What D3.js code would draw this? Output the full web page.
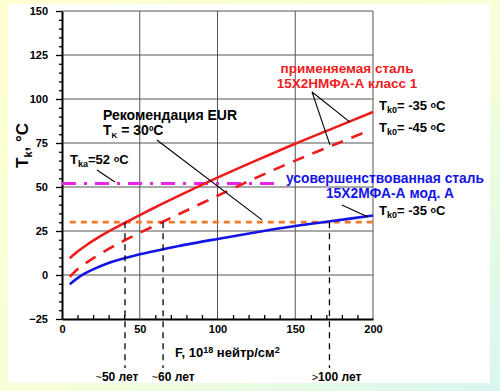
<!DOCTYPE html>
<html>
<head>
<meta charset="utf-8">
<script src="https://cdn.jsdelivr.net/npm/d3@7"></script>
<style>
  body { margin: 0; }
  svg { display: block; font-family: "Liberation Sans", Arial, sans-serif; }
</style>
</head>
<body>
<script>
const width = 500;
const height = 391;

// fluence F, 10^18 n/cm2
const fluence = [5, 10, 15, 20, 30, 40, 50, 65, 75, 100, 125, 150, 175, 200];
const redSolid = [9.5, 13.3, 16.5, 19.5, 24.8, 29.4, 34, 40.7, 45, 55.3, 65.1, 74.6, 83.6, 92.6];
const fluenceDashed = [5, 10, 15, 20, 30, 40, 50, 65, 75, 100, 125, 150, 175, 195];
const redDashed = [-1, 3.3, 6.6, 9.5, 14.8, 19.6, 24, 30.3, 34.5, 45, 55.3, 65, 74, 81.2];
const blueLine = [-5.3, -1.8, 1, 3.2, 6.8, 9.5, 11.8, 14.6, 16.5, 20.5, 24.3, 27.8, 30.8, 33.8];

const yTicks = [-25, 0, 25, 50, 75, 100, 125, 150];
const xTicks = [0, 50, 100, 150, 200];
const gridY = [0, 25, 50, 75, 100, 125];
const gridX = [50, 100, 150];

const tkaLevel = 52;      // magenta, F 0..140
const eurLevel = 30;      // orange
const lifeF = [40.5, 65, 172];
const lifeLabels = ["50 лет", "60 лет", "100 лет"];
const lifePrefix = ["~", "~", ">"];

const x = d3.scaleLinear().domain([0, 200]).range([62, 373]);
const y = d3.scaleLinear().domain([-25, 150]).range([319, 11]);

const svg = d3.select("body").append("svg")
  .attr("width", width)
  .attr("height", height);

// background
const defs = svg.append("defs");
const grad = defs.append("linearGradient").attr("id", "bg")
  .attr("x1", "0").attr("y1", "0").attr("x2", "1").attr("y2", "1");
grad.append("stop").attr("offset", "0").attr("stop-color", "#ffffd2");
grad.append("stop").attr("offset", "0.55").attr("stop-color", "#f6ffd8");
grad.append("stop").attr("offset", "1").attr("stop-color", "#d8f6f0");
svg.append("rect").attr("width", width).attr("height", height).attr("fill", "url(#bg)");
svg.append("rect").attr("x", 8).attr("y", 4).attr("width", 482).attr("height", 379)
  .attr("fill", "#ffffff");

// grid
const grid = svg.append("g").attr("stroke", "#555").attr("stroke-width", 1);
grid.selectAll(".gy").data(gridY).enter().append("line")
  .attr("x1", x(0)).attr("x2", x(200))
  .attr("y1", d => y(d)).attr("y2", d => y(d));
grid.selectAll(".gx").data(gridX).enter().append("line")
  .attr("y1", y(-25)).attr("y2", y(150))
  .attr("x1", d => x(d)).attr("x2", d => x(d));
grid.append("line").attr("x1", x(0)).attr("x2", x(200)).attr("y1", y(150)).attr("y2", y(150));
grid.append("line").attr("x1", x(200)).attr("x2", x(200)).attr("y1", y(-25)).attr("y2", y(150));

// axes
const yMinor = d3.range(-25, 151, 5).filter(v => v % 25 !== 0);
const xMinor = d3.range(0, 201, 10).filter(v => v % 50 !== 0);

svg.append("g").attr("transform", `translate(${x(0)},0)`)
  .call(d3.axisLeft(y).tickValues(yMinor).tickSize(3).tickFormat("").tickSizeOuter(0))
  .call(g => g.select(".domain").remove());
svg.append("g").attr("transform", `translate(${x(0)},0)`)
  .call(d3.axisLeft(y).tickValues(yTicks).tickSize(6).tickPadding(8).tickSizeOuter(0));

svg.append("g").attr("transform", `translate(0,${y(-25)})`)
  .call(d3.axisBottom(x).tickValues(xMinor).tickSize(-4).tickFormat("").tickSizeOuter(0))
  .call(g => g.select(".domain").remove());
svg.append("g").attr("transform", `translate(0,${y(-25)})`)
  .call(d3.axisBottom(x).tickValues(xTicks).tickSize(0).tickPadding(6).tickSizeOuter(0));

svg.selectAll(".domain").attr("stroke", "#000").attr("stroke-width", 2);
svg.selectAll(".tick line").attr("stroke", "#000").attr("stroke-width", 1.3);
svg.selectAll(".tick text").attr("font-size", 11).attr("font-weight", "bold")
  .attr("fill", "#000").attr("font-family", "Liberation Sans, Arial, sans-serif");

// horizontal reference lines
svg.append("line")
  .attr("x1", x(0)).attr("x2", x(140)).attr("y1", y(tkaLevel)).attr("y2", y(tkaLevel))
  .attr("stroke", "#ee22ee").attr("stroke-width", 3.2)
  .attr("stroke-dasharray", "14,8,3,8");
svg.append("line")
  .attr("x1", x(5)).attr("x2", x(200)).attr("y1", y(eurLevel)).attr("y2", y(eurLevel))
  .attr("stroke", "#f07a28").attr("stroke-width", 2.8)
  .attr("stroke-dasharray", "6,5");

// curves
const line = d3.line().x(d => x(d[0])).y(d => y(d[1])).curve(d3.curveCatmullRom);

svg.append("path").attr("d", line(d3.zip(fluence, blueLine)))
  .attr("fill", "none").attr("stroke", "#1414e6").attr("stroke-width", 2.6);
svg.append("path").attr("d", line(d3.zip(fluenceDashed, redDashed)))
  .attr("fill", "none").attr("stroke", "#ee1c1c").attr("stroke-width", 2.6)
  .attr("stroke-dasharray", "12,9");
svg.append("path").attr("d", line(d3.zip(fluence, redSolid)))
  .attr("fill", "none").attr("stroke", "#ee1c1c").attr("stroke-width", 2.6);

// lifetime markers
svg.selectAll(".life").data(lifeF).enter().append("line")
  .attr("x1", d => x(d)).attr("x2", d => x(d))
  .attr("y1", y(eurLevel)).attr("y2", 368)
  .attr("stroke", "#000").attr("stroke-width", 1.3)
  .attr("stroke-dasharray", "6,5");

const lifeText = svg.selectAll(".lifet").data(lifeF).enter().append("text")
  .attr("x", (d, i) => x(d) + [-8, 10, 7][i])
  .attr("y", 381)
  .attr("text-anchor", "middle")
  .attr("font-size", 12).attr("font-weight", "bold");
lifeText.append("tspan").attr("font-weight", "normal").attr("font-size", 11)
  .text((d, i) => lifePrefix[i]);
lifeText.append("tspan").text((d, i) => lifeLabels[i]);

// leader lines (data coordinates)
const leaders = [
  [[22.5, 59.7], [34, 52.8]],
  [[61, 76.7], [128.6, 31.3]],
  [[160.8, 104], [185, 87]],
  [[160.8, 104], [172.3, 73.9]],
  [[180, 39.8], [196.8, 33]]
];
svg.selectAll(".leader").data(leaders).enter().append("line")
  .attr("x1", d => x(d[0][0])).attr("y1", d => y(d[0][1]))
  .attr("x2", d => x(d[1][0])).attr("y2", d => y(d[1][1]))
  .attr("stroke", "#000").attr("stroke-width", 1.1);

// labels
function label(px, py, anchor, color, size) {
  return svg.append("text").attr("x", px).attr("y", py)
    .attr("text-anchor", anchor).attr("fill", color)
    .attr("font-size", size).attr("font-weight", "bold");
}

label(347, 73, "middle", "#ee1c1c", 13.5).text("применяемая сталь");
label(347, 88, "middle", "#ee1c1c", 13.5).text("15Х2НМФА-А класс 1");
label(385, 183, "middle", "#1414e6", 13.8).text("усовершенствованная сталь");
label(390, 198, "middle", "#1414e6", 13.8).text("15Х2МФА-А мод. А");

function tk0(py, val) {
  const t = label(379, py, "start", "#000", 13);
  t.append("tspan").text("T");
  t.append("tspan").attr("font-size", 9).attr("dy", 3).text("k0");
  t.append("tspan").attr("dy", -3).text("= " + val + " ");
  t.append("tspan").attr("font-size", 9).attr("dy", -2).text("o");
  t.append("tspan").attr("dy", 2).text("C");
}
tk0(110, "-35");
tk0(132, "-45");
tk0(215, "-35");

const tka = label(70, 164, "start", "#000", 13);
tka.append("tspan").text("T");
tka.append("tspan").attr("font-size", 9).attr("dy", 3).text("ka");
tka.append("tspan").attr("dy", -3).text("=52 ");
tka.append("tspan").attr("font-size", 9).attr("dy", -2).text("o");
tka.append("tspan").attr("dy", 2).text("C");

label(103, 120, "start", "#000", 14).text("Рекомендация EUR");
const tk = label(103, 135, "start", "#000", 14);
tk.append("tspan").text("T");
tk.append("tspan").attr("font-size", 8).attr("dy", 3).text("K");
tk.append("tspan").attr("dy", -3).text(" = 30");
tk.append("tspan").attr("font-size", 8).attr("dy", -4).text("0");
tk.append("tspan").attr("dy", 4).text("C");

// axis titles
const xt = label(175, 357, "start", "#000", 13);
xt.append("tspan").text("F, 10");
xt.append("tspan").attr("font-size", 9).attr("dy", -4).text("18");
xt.append("tspan").attr("dy", 4).text(" нейтр/см");
xt.append("tspan").attr("font-size", 9).attr("dy", -4).text("2");

const yt = svg.append("text")
  .attr("transform", "translate(28,168) rotate(-90)")
  .attr("font-size", 17).attr("font-weight", "bold").attr("fill", "#000");
yt.append("tspan").text("T");
yt.append("tspan").attr("font-size", 11).attr("dy", 4).text("k");
yt.append("tspan").attr("dy", -4).text(", °C");
</script>
</body>
</html>
